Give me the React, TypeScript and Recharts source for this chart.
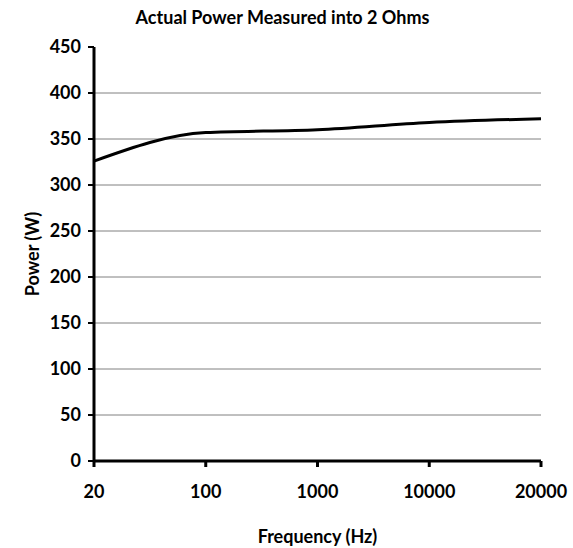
import React from 'react';
import { CartesianGrid, Line, LineChart, XAxis, YAxis } from 'recharts';

// ----------------------
// DATA
// ----------------------
const FREQUENCIES = ['20', '100', '1000', '10000', '20000'];
const POWER_W = [326, 357, 360, 368, 372];
const Y_TICKS = [0, 50, 100, 150, 200, 250, 300, 350, 400, 450];
const GRID_VALUES = [50, 100, 150, 200, 250, 300, 350, 400];

const data = FREQUENCIES.map((f, i) => ({ name: f, power: POWER_W[i] }));

const FONT = 'Lato, "Open Sans", sans-serif';
const tickStyle = { fontFamily: FONT, fontWeight: 700, fontSize: 18, fill: '#000' };

export default function App() {
  return (
    <div style={{ position: 'absolute', left: 0, top: 0, width: 573, height: 548, background: '#fff' }}>
      <div
        style={{
          position: 'absolute',
          top: 6,
          left: -4,
          width: 573,
          textAlign: 'center',
          fontFamily: FONT,
          fontWeight: 700,
          fontSize: 18,
          lineHeight: '22px',
          color: '#000',
        }}
      >
        Actual Power Measured into 2 Ohms
      </div>
      <LineChart width={573} height={548} data={data} margin={{ top: 47, right: 32, left: 0, bottom: 0 }}>
        <CartesianGrid vertical={false} horizontalValues={GRID_VALUES} stroke="#808080" strokeWidth={1} />
        <XAxis
          dataKey="name"
          height={87}
          stroke="#000"
          strokeWidth={3}
          tickSize={6}
          tickMargin={18}
          tick={tickStyle}
          tickLine={{ stroke: '#000', strokeWidth: 3 }}
          label={{ value: 'Frequency (Hz)', position: 'insideBottom', offset: 5, style: tickStyle }}
        />
        <YAxis
          width={94}
          domain={[0, 450]}
          ticks={Y_TICKS}
          interval={0}
          stroke="#000"
          strokeWidth={3}
          tickSize={6}
          tickMargin={7}
          tick={tickStyle}
          tickLine={{ stroke: '#000', strokeWidth: 2 }}
          label={{ value: 'Power (W)', angle: -90, position: 'insideLeft', offset: 33, style: { ...tickStyle, textAnchor: 'middle' } }}
        />
        <Line type="monotone" dataKey="power" stroke="#000" strokeWidth={3} dot={false} isAnimationActive={false} />
      </LineChart>
    </div>
  );
}
